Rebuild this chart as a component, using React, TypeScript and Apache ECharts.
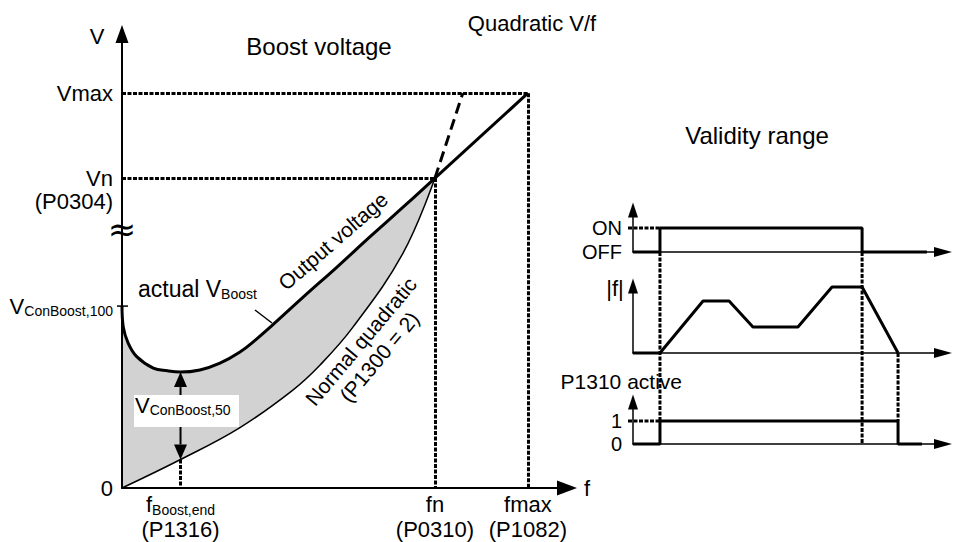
import React, { useEffect, useRef } from 'react';
import * as echarts from 'echarts';

const FONT = "'Liberation Sans', Arial, Helvetica, sans-serif";

// ---------- Main diagram (f in % of fn, V in % of Vn) ----------
const F_BOOST_END = 18.7;
const F_N = 100;
const F_MAX = 129.7;
const V_N = 100;
const V_MAX = 127.4;
const V_CONBOOST_100 = 58.7;
const V_BOOST_MIN = 37.4;
const V_QUAD_AT_F_BOOST_END = 9.2;
const V_AXIS_BREAK = 83.6;
const F_AXIS_MAX = 142.2;
const V_AXIS_MAX = 146.5;

const outputF = [0, 0.4, 2.0, 4.7, 10.0, 14.5, 18.7, 24.9, 31.3, 37.7, 42.8, 47.9, 57.8, 68.7, 79.2, 89.8, 100];
const outputV = [58.7, 52.0, 46.7, 42.4, 38.7, 37.8, 37.4, 38.1, 40.3, 43.9, 47.9, 52.4, 61.5, 71.3, 81.0, 90.6, 100];
const normalF = [0, 18.7, 37.7, 54.6, 63.3, 73.8, 89.8, 100];
const normalV = [0, 9.2, 19.5, 31.6, 39.7, 51.9, 75.8, 100];
const linearF = [F_N, F_MAX];
const linearV = [V_N, V_MAX];
const dashedF = [100, 108.9];
const dashedV = [100, 127.4];

const yTickValues = [0, V_CONBOOST_100, V_N, V_MAX];
const xTickValues = [F_BOOST_END, F_N, F_MAX];

// ---------- Validity range timing ----------
const T_MAX = 100;
const T_ON = 8.7;
const T_OFF = 73.9;
const T_STOP = 85.5;
const onOffT = [0, T_ON, T_ON, T_OFF, T_OFF, 94.8];
const onOffLevel = [0, 0, 1, 1, 0, 0];
const freqT = [0, 8.7, 22.6, 31.0, 38.7, 53.2, 64.2, 73.9, 85.5];
const freqLevel = [0, 0, 52, 52, 26, 26, 66, 66, 0];
const activeT = [0, T_ON, T_ON, T_STOP, T_STOP, 93.2];
const activeLevel = [0, 0, 1, 1, 0, 0];
const onOffLabels = ['OFF', 'ON'];
const activeLabels = ['0', '1'];

const zip = (a: number[], b: number[]) => a.map((v, i) => [v, b[i]]);
const near = (a: number, b: number) => Math.abs(a - b) < 1e-6;

const richAxisY = {
  m: { fontSize: 22, fontFamily: FONT, color: '#000', lineHeight: 23 },
  s: { fontSize: 14, fontFamily: FONT, color: '#000', lineHeight: 10, verticalAlign: 'bottom' },
};
const richAxisX = {
  m: { fontSize: 22, fontFamily: FONT, color: '#000', lineHeight: 25 },
  s: { fontSize: 14, fontFamily: FONT, color: '#000', lineHeight: 11, verticalAlign: 'bottom' },
};
const richG = (size: number) => ({
  m: { fontSize: size, fontFamily: FONT, fill: '#000', lineHeight: 24 },
  s: { fontSize: 14, fontFamily: FONT, fill: '#000', lineHeight: 10, verticalAlign: 'bottom' },
});

export default function App() {
  const ref = useRef<HTMLDivElement>(null);
  useEffect(() => {
    const el = ref.current!;
    const chart = echarts.init(el, null, { renderer: 'svg' });

    const blackAxis = { color: '#000', width: 1.5 };
    const rightX = (gi: number) => ({
      type: 'value', gridIndex: gi, min: 0, max: T_MAX, z: 10,
      axisLine: { show: true, onZero: false, symbol: ['none', 'triangle'], symbolSize: [10, 18], lineStyle: blackAxis },
      axisTick: { show: false }, axisLabel: { show: false }, splitLine: { show: false },
    });
    const rightY = (gi: number, max: number, labels: string[] | null) => ({
      type: 'value', gridIndex: gi, min: 0, max, z: 10,
      axisLine: { show: true, onZero: false, symbol: ['none', 'triangle'], symbolSize: [10, 15], lineStyle: blackAxis },
      axisTick: { show: false }, splitLine: { show: false },
      axisLabel: labels
        ? { customValues: [0, 1], formatter: (v: number) => labels[Math.round(v)], margin: 11, fontSize: 20, fontFamily: FONT, color: '#000' }
        : { show: false },
    });

    const thick = { color: '#000', width: 3 };
    const dotted = [4, 1.5];
    const lineBase = { type: 'line', showSymbol: false, symbol: 'none', silent: true, clip: false, emphasis: { disabled: true } };

    const option: any = {
      animation: false,
      backgroundColor: '#fff',
      grid: [
        { left: 122, top: 34, width: 445, height: 454, outerBoundsMode: 'none' },
        { left: 633, top: 210, width: 310, height: 42, outerBoundsMode: 'none' },
        { left: 633, top: 286, width: 310, height: 67, outerBoundsMode: 'none' },
        { left: 633, top: 402, width: 310, height: 42, outerBoundsMode: 'none' },
      ],
      xAxis: [
        {
          type: 'value', gridIndex: 0, min: 0, max: F_AXIS_MAX, z: 10,
          axisLine: { show: true, symbol: ['none', 'triangle'], symbolSize: [15, 20], lineStyle: { color: '#000', width: 2 } },
          axisTick: { show: false }, splitLine: { show: false },
          axisLabel: {
            customValues: xTickValues, margin: 4, color: '#000', fontFamily: FONT, fontSize: 22, rich: richAxisX,
            formatter: (v: number) => {
              if (near(v, F_BOOST_END)) return '{m|f}{s|Boost,end}\n{m|(P1316)}';
              if (near(v, F_N)) return '{m|fn}\n{m|(P0310)}';
              if (near(v, F_MAX)) return '{m|fmax}\n{m|(P1082)}';
              return '';
            },
          },
          name: 'f', nameLocation: 'end', nameGap: 17,
          nameTextStyle: { fontSize: 22, fontFamily: FONT, color: '#000', align: 'left', verticalAlign: 'middle' },
        },
        rightX(1), rightX(2), rightX(3),
      ],
      yAxis: [
        {
          type: 'value', gridIndex: 0, min: 0, max: V_AXIS_MAX, z: 10,
          axisLine: { show: true, symbol: ['none', 'triangle'], symbolSize: [13, 18], lineStyle: { color: '#000', width: 2 } },
          axisTick: { show: false }, splitLine: { show: false },
          axisLabel: {
            customValues: yTickValues, margin: 9, color: '#000', fontFamily: FONT, fontSize: 22, rich: richAxisY,
            formatter: (v: number) => {
              if (near(v, 0)) return '{m|0}';
              if (near(v, V_CONBOOST_100)) return '{m|V}{s|ConBoost,100}';
              if (near(v, V_N)) return '{m| }\n{m|Vn}\n{m|(P0304)}';
              if (near(v, V_MAX)) return '{m|Vmax}';
              return '';
            },
          },
        },
        rightY(1, 1.75, onOffLabels), rightY(2, 67, null), rightY(3, 1.83, activeLabels),
      ],
      series: [
        { ...lineBase, name: 'Boost area', xAxisIndex: 0, yAxisIndex: 0, data: zip(outputF, outputV), smooth: 0.4,
          lineStyle: { width: 0 }, areaStyle: { color: '#d2d2d2', opacity: 1 }, z: 1 },
        { ...lineBase, name: 'Normal quadratic', xAxisIndex: 0, yAxisIndex: 0, data: zip(normalF, normalV), smooth: 0.4,
          lineStyle: { color: '#000', width: 1.5 }, areaStyle: { color: '#fff', opacity: 1 }, z: 2 },
        { ...lineBase, name: 'Output voltage', xAxisIndex: 0, yAxisIndex: 0, data: zip(outputF, outputV), smooth: 0.4,
          lineStyle: thick, z: 3 },
        { ...lineBase, name: 'Output voltage linear', xAxisIndex: 0, yAxisIndex: 0, data: zip(linearF, linearV),
          lineStyle: thick, z: 3,
          markLine: {
            silent: true, symbol: ['none', 'none'], label: { show: false }, emphasis: { disabled: true }, z: 5,
            lineStyle: { color: '#000', width: 3, type: dotted },
            data: [
              [{ coord: [0, V_MAX] }, { coord: [F_MAX, V_MAX] }],
              [{ coord: [0, V_N] }, { coord: [F_N, V_N] }],
              [{ coord: [F_N, V_N] }, { coord: [F_N, 0] }],
              [{ coord: [F_MAX, V_MAX] }, { coord: [F_MAX, 0] }],
              [{ coord: [F_BOOST_END, V_QUAD_AT_F_BOOST_END] }, { coord: [F_BOOST_END, 0] }],
            ],
          } },
        { ...lineBase, name: 'Quadratic continuation', xAxisIndex: 0, yAxisIndex: 0, data: zip(dashedF, dashedV),
          lineStyle: { color: '#000', width: 3, type: [11, 6] }, z: 3 },
        {
          type: 'custom', name: 'VConBoost,50', xAxisIndex: 0, yAxisIndex: 0, silent: true, z: 6, clip: false,
          data: [[F_BOOST_END, V_QUAD_AT_F_BOOST_END, V_BOOST_MIN]],
          renderItem: (params: any, api: any) => {
            const f = api.value(0);
            const top = api.coord([f, api.value(2)]);
            const bot = api.coord([f, api.value(1)]);
            const ah = 15, aw = 6.5;
            return {
              type: 'group',
              children: [
                { type: 'line', shape: { x1: top[0], y1: top[1] + ah, x2: bot[0], y2: bot[1] - ah }, style: { stroke: '#000', lineWidth: 2 } },
                { type: 'polygon', shape: { points: [[top[0], top[1]], [top[0] - aw, top[1] + ah], [top[0] + aw, top[1] + ah]] }, style: { fill: '#000' } },
                { type: 'polygon', shape: { points: [[bot[0], bot[1]], [bot[0] - aw, bot[1] - ah], [bot[0] + aw, bot[1] - ah]] }, style: { fill: '#000' } },
              ],
            };
          },
        },
        { ...lineBase, name: 'ON/OFF', xAxisIndex: 1, yAxisIndex: 1, data: zip(onOffT, onOffLevel), lineStyle: thick, z: 3 },
        { ...lineBase, name: '|f|', xAxisIndex: 2, yAxisIndex: 2, data: zip(freqT, freqLevel), lineStyle: thick, z: 3 },
        { ...lineBase, name: 'P1310 active', xAxisIndex: 3, yAxisIndex: 3, data: zip(activeT, activeLevel), lineStyle: thick, z: 3 },
      ],
    };
    chart.setOption(option);

    const p = (gi: number, pt: number[]) => chart.convertToPixel({ gridIndex: gi } as any, pt) as unknown as number[];
    const els: any[] = [];
    const dot = { stroke: '#000', lineWidth: 3, lineDash: dotted };
    const addLine = (a: number[], b: number[], style: any) =>
      els.push({ type: 'line', silent: true, z: 20, shape: { x1: a[0], y1: a[1], x2: b[0], y2: b[1] }, style });
    const addText = (x: number, y: number, text: string, extra: any = {}, rot = 0, z = 30) =>
      els.push({
        type: 'text', silent: true, z, x, y, rotation: rot,
        style: { text, fontSize: 22, fontFamily: FONT, fill: '#000', align: 'center', verticalAlign: 'middle', ...extra },
      });

    // right-side connectors
    addLine(p(1, [T_ON, 0]), p(3, [T_ON, 1]), dot);
    addLine(p(1, [T_OFF, 0]), p(3, [T_OFF, 0]), dot);
    addLine(p(2, [T_STOP, 0]), p(3, [T_STOP, 1]), dot);
    const on0 = p(1, [0, 1]);
    addLine([on0[0] - 5, on0[1]], p(1, [T_ON, 1]), dot);
    const one0 = p(3, [0, 1]);
    addLine([one0[0] - 5, one0[1]], p(3, [T_ON, 1]), dot);

    // main-chart decorations
    const tk = p(0, [0, V_CONBOOST_100]);
    addLine([tk[0] - 5, tk[1]], [tk[0] + 6, tk[1]], { stroke: '#000', lineWidth: 1.5 });
    const br = p(0, [0, V_AXIS_BREAK]);
    addText(br[0], br[1], '≈', { fontSize: 34, fontFamily: "'DejaVu Sans', sans-serif" });

    // texts
    addText(97, 36, 'V');
    addText(319, 46, 'Boost voltage', { fontSize: 24 });
    addText(532, 23, 'Quadratic V/f');
    addText(757, 135, 'Validity range', { fontSize: 24 });
    addText(615, 288, '|f|', { fontSize: 22 });
    addText(682, 381, 'P1310 active', { fontSize: 21, align: 'right' });
    els.push({
      type: 'text', silent: true, z: 30, x: 138, y: 289,
      style: { text: '{m|actual V}{s|Boost}', rich: richG(23), align: 'left', verticalAlign: 'middle' },
    });
    addLine([255, 310], [272, 323], { stroke: '#000', lineWidth: 1.5 });
    addText(333, 241, 'Output voltage', { fontSize: 21 }, (41 * Math.PI) / 180);
    addText(370, 349, 'Normal quadratic\n(P1300 = 2)', { fontSize: 21, lineHeight: 24 }, (50 * Math.PI) / 180);
    els.push({ type: 'rect', silent: true, z: 40, shape: { x: 134, y: 395, width: 105, height: 32 }, style: { fill: '#fff' } });
    els.push({
      type: 'text', silent: true, z: 41, x: 135, y: 405,
      style: { text: '{m|V}{s|ConBoost,50}', rich: richG(22), align: 'left', verticalAlign: 'middle' },
    });

    chart.setOption({ graphic: { elements: els } });
    return () => chart.dispose();
  }, []);
  return <div ref={ref} style={{ position: 'fixed', left: 0, top: 0, width: 953, height: 542, background: '#fff' }} />;
}
